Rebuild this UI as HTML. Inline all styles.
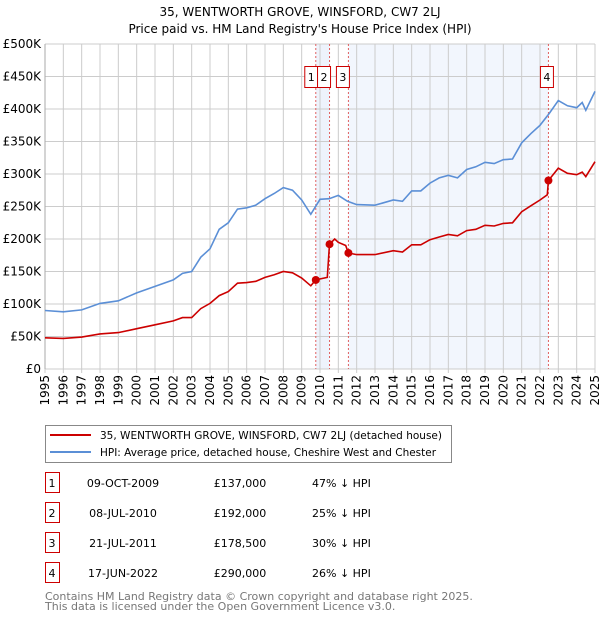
<!DOCTYPE html>
<html><head><meta charset="utf-8"><style>
body{margin:0;background:#fff;font-family:"Liberation Sans","DejaVu Sans",sans-serif;}
svg text{font-family:"DejaVu Sans","Liberation Sans",sans-serif;}
</style></head><body>
<svg id="c" width="600" height="620" xmlns="http://www.w3.org/2000/svg">
<text x="300" y="16" text-anchor="middle" font-size="12">35, WENTWORTH GROVE, WINSFORD, CW7 2LJ</text>
<text x="300" y="33" text-anchor="middle" font-size="12">Price paid vs. HM Land Registry's House Price Index (HPI)</text>
<g id="plot"></g>
<g>
<rect x="45.5" y="425.5" width="406" height="37" fill="#fff" stroke="#888"/>
<line x1="50" y1="435" x2="91" y2="435" stroke="#cc0000" stroke-width="2"/>
<text x="100" y="439" font-size="10.5" textLength="342" lengthAdjust="spacingAndGlyphs">35, WENTWORTH GROVE, WINSFORD, CW7 2LJ (detached house)</text>
<line x1="50" y1="452" x2="91" y2="452" stroke="#5b8fd6" stroke-width="2"/>
<text x="100" y="456" font-size="10.5" textLength="336" lengthAdjust="spacingAndGlyphs">HPI: Average price, detached house, Cheshire West and Chester</text>
</g>
<g id="table" font-size="11"></g>
<text x="45" y="600" font-size="11" fill="#777">Contains HM Land Registry data © Crown copyright and database right 2025.</text>
<text x="45" y="610" font-size="11" fill="#777">This data is licensed under the Open Government Licence v3.0.</text>
</svg>
<script>
const hpiYears=[1995,1996,1997,1998,1999,2000,2001,2002,2002.5,2003,2003.5,2004,2004.5,2005,2005.5,2006,2006.5,2007,2007.5,2008,2008.5,2009,2009.5,2010,2010.5,2011,2011.5,2012,2013,2014,2014.5,2015,2015.5,2016,2016.5,2017,2017.5,2018,2018.5,2019,2019.5,2020,2020.5,2021,2021.5,2022,2022.5,2023,2023.5,2024,2024.3,2024.5,2025];
const hpiValues=[90,88,91,101,105,117,127,137,147,150,172,185,215,225,246,248,252,262,270,279,275,260,238,261,262,267,258,253,252,260,258,274,274,286,294,298,294,307,311,318,316,322,323,348,362,375,393,413,405,402,410,398,427];
const propYears=[1995,1996,1997,1998,1999,2000,2001,2002,2002.5,2003,2003.5,2004,2004.5,2005,2005.5,2006,2006.5,2007,2007.5,2008,2008.5,2009,2009.5,2009.77,2010.4,2010.52,2010.8,2011,2011.4,2011.55,2012,2013,2014,2014.5,2015,2015.5,2016,2016.5,2017,2017.5,2018,2018.5,2019,2019.5,2020,2020.5,2021,2021.5,2022,2022.4,2022.46,2023,2023.5,2024,2024.3,2024.5,2025];
const propValues=[48,47,49,54,56,62,68,74,79,79,93,101,113,119,132,133,135,141,145,150,148,140,128,137,141,192,200,195,190,178.5,176,176,182,180,191,191,199,203,207,205,213,215,221,220,224,225,242,251,260,268,290,309,301,299,303,296,319];
const saleLabels=["1","2","3","4"];
const saleYears=[2009.77,2010.52,2011.55,2022.46];
const saleValues=[137,192,178.5,290];
const saleDates=["09-OCT-2009","08-JUL-2010","21-JUL-2011","17-JUN-2022"];
const salePrices=["£137,000","£192,000","£178,500","£290,000"];
const saleDiffs=["47% ↓ HPI","25% ↓ HPI","30% ↓ HPI","26% ↓ HPI"];
const yTicks=[0,50,100,150,200,250,300,350,400,450,500];
const yTickLabels=["£0","£50K","£100K","£150K","£200K","£250K","£300K","£350K","£400K","£450K","£500K"];
const xTicks=[1995,1996,1997,1998,1999,2000,2001,2002,2003,2004,2005,2006,2007,2008,2009,2010,2011,2012,2013,2014,2015,2016,2017,2018,2019,2020,2021,2022,2023,2024,2025];

const X0=45,X1=595,Y0=369,Y1=44;
const xs=y=>X0+(y-1995)/30*(X1-X0);
const ys=v=>Y0-v/500*(Y0-Y1);
const NS="http://www.w3.org/2000/svg";
const plot=document.getElementById('plot');
function mk(tag,attrs,parent){const e=document.createElementNS(NS,tag);for(const k in attrs)e.setAttribute(k,attrs[k]);(parent||plot).appendChild(e);return e;}

let bg=mk('rect',{x:X0,y:Y1,width:X1-X0,height:Y0-Y1,fill:'#fff'});


let sh1=mk('rect',{x:xs(saleYears[0]),y:Y1,width:xs(saleYears[1])-xs(saleYears[0]),height:Y0-Y1,fill:'#eef3fc'});


let sh2=mk('rect',{x:xs(saleYears[2]),y:Y1,width:xs(saleYears[3])-xs(saleYears[2]),height:Y0-Y1,fill:'#f2f6fd'});



yTicks.forEach((t,i)=>{
  let l=mk('line',{x1:X0,x2:X1,y1:ys(t),y2:ys(t),stroke:'#ccc','stroke-width':1});
  
  
  let tx=mk('text',{x:X0-4,y:ys(t)+4,'text-anchor':'end','font-size':12});
  
  
  tx.textContent=yTickLabels[i];
});
xTicks.forEach(t=>{
  let l=mk('line',{x1:xs(t),x2:xs(t),y1:Y1,y2:Y0+4,stroke:'#ccc','stroke-width':1});
  
  
  let tx=mk('text',{x:0,y:0,'text-anchor':'end','font-size':12,transform:`translate(${xs(t)+4},${Y0+6}) rotate(-90)`});
  
  
  tx.textContent=t;
});
let ax=mk('line',{x1:X0,x2:X0,y1:Y1,y2:Y0,stroke:'#aaa'});



saleYears.forEach((s,i)=>{
  let l=mk('line',{x1:xs(s),x2:xs(s),y1:Y1,y2:Y0,stroke:'#e06060','stroke-width':1,'stroke-dasharray':'2,2'});
  
  
});

function path(xa,va,color,name){
  const d=xa.map((x,i)=>(i?'L':'M')+xs(x).toFixed(1)+','+ys(va[i]).toFixed(1)).join('');
  let p=mk('path',{d:d,fill:'none',stroke:color,'stroke-width':1.6});
  
  
}
path(hpiYears,hpiValues,'#5b8fd6','hpi-line');
path(propYears,propValues,'#cc0000','property-line');

saleYears.forEach((s,i)=>{
  let c=mk('circle',{cx:xs(s),cy:ys(saleValues[i]),r:4,fill:'#cc0000'});
  
  
  const bx=xs(s)+[-11,-12,-12,-8][i];
  let r=mk('rect',{x:bx,y:66.5,width:13,height:21,fill:'#fff',stroke:'#cc0000'});
  
  
  let t=mk('text',{x:bx+6.5,y:81,'text-anchor':'middle','font-size':11});
  
  
  t.textContent=saleLabels[i];
});

const tbl=document.getElementById('table');
saleLabels.forEach((lab,i)=>{
  const cy=483+i*30;
  let r=mk('rect',{x:45.5,y:cy-10.5,width:14,height:20,fill:'#fff',stroke:'#cc0000'},tbl);
  
  
  const cells=[[52,lab,'middle'],[123,saleDates[i],'middle'],[240,salePrices[i],'middle'],[312,saleDiffs[i],'start']];
  cells.forEach(c=>{
    let t=mk('text',{x:c[0],y:cy+4,'text-anchor':c[2]},tbl);
    
    
    t.textContent=c[1];
  });
});
</script>
</body></html>
